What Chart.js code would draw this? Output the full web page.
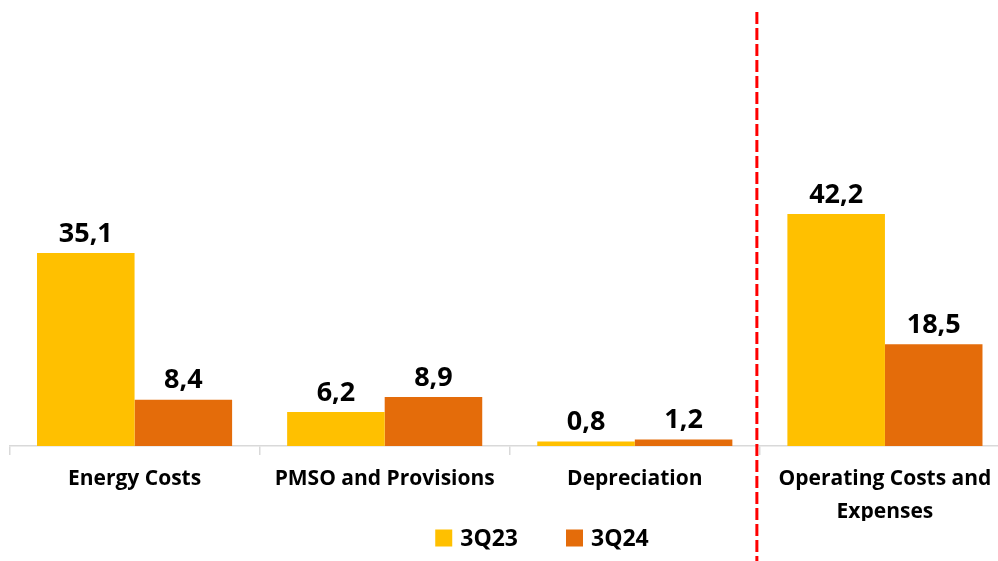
<!DOCTYPE html>
<html>
<head>
<meta charset="utf-8">
<script src="https://cdn.jsdelivr.net/npm/chart.js@4/dist/chart.umd.min.js"></script>
<style>
  html, body { margin: 0; padding: 0; background: #fff; }
  #wrap { width: 998px; height: 561px; overflow: hidden; }
</style>
</head>
<body>
<div id="wrap"><canvas id="costChart" width="1010" height="561"></canvas></div>
<script>
const categories = ['Energy Costs', 'PMSO and Provisions', 'Depreciation', ['Operating Costs and', 'Expenses']];
const q23 = [35.1, 6.2, 0.8, 42.2];
const q24 = [8.4, 8.9, 1.2, 18.5];
const seriesNames = ['3Q23', '3Q24'];
const seriesColors = ['#FFC000', '#E46C0A'];

const ctx = document.getElementById('costChart').getContext('2d');
const FONT = '"Open Sans", sans-serif';

// value labels above bars, comma decimals
const valueLabels = {
  id: 'valueLabels',
  afterDatasetsDraw(chart) {
    const c = chart.ctx;
    c.save();
    c.font = 'bold 27px ' + FONT;
    c.fillStyle = '#000';
    c.textAlign = 'center';
    c.textBaseline = 'middle';
    chart.data.datasets.forEach((ds, i) => {
      chart.getDatasetMeta(i).data.forEach((bar, j) => {
        c.fillText(ds.data[j].toFixed(1).replace('.', ','), bar.x, bar.y - 19);
      });
    });
    c.restore();
  }
};

// red dashed separator before the total group
const separator = {
  id: 'separator',
  afterDraw(chart) {
    const x = chart.scales.x;
    const px = (x.getPixelForValue(2) + x.getPixelForValue(3)) / 2 - 3;
    const c = chart.ctx;
    c.save();
    c.strokeStyle = '#FF0000';
    c.lineWidth = 3;
    c.setLineDash([12, 4]);
    c.beginPath();
    c.moveTo(px, 12);
    c.lineTo(px, chart.height);
    c.stroke();
    c.restore();
  }
};

// legend drawn by hand so the spacing matches
const bottomLegend = {
  id: 'bottomLegend',
  afterDraw(chart) {
    const c = chart.ctx;
    c.save();
    c.font = 'bold 23px ' + FONT;
    c.textBaseline = 'middle';
    const box = 17, gap = 8, between = 48;
    const widths = seriesNames.map(n => c.measureText(n).width);
    const total = widths.reduce((a, w) => a + box + gap + w, 0) + between * (seriesNames.length - 1);
    let x = 542 - total / 2;
    const y = 538;
    seriesNames.forEach((n, i) => {
      c.fillStyle = seriesColors[i];
      c.fillRect(x, y - box / 2, box, box);
      c.fillStyle = '#000';
      c.fillText(n, x + box + gap, y + 1);
      x += box + gap + widths[i] + between;
    });
    c.restore();
  }
};

const costChart = new Chart(ctx, {
  type: 'bar',
  data: {
    labels: categories,
    datasets: [
      { label: seriesNames[0], data: q23, backgroundColor: seriesColors[0] },
      { label: seriesNames[1], data: q24, backgroundColor: seriesColors[1] }
    ]
  },
  options: {
    responsive: false,
    animation: false,
    categoryPercentage: 0.78,
    barPercentage: 1,
    layout: { padding: { left: 9.5, right: 0, top: 6, bottom: 40 } },
    scales: {
      x: {
        grid: {
          drawOnChartArea: false,
          tickLength: 9,
          color: '#D9D9D9',
          lineWidth: 1.5
        },
        border: { color: '#D9D9D9', width: 1.5 },
        ticks: {
          color: '#000',
          font: { family: FONT, size: 21, weight: 'bold', lineHeight: 1.55 },
          padding: 8,
          maxRotation: 0
        },
        afterFit(axis) { axis.height = 75; }
      },
      y: {
        display: false,
        min: 0,
        max: 80
      }
    },
    plugins: {
      legend: { display: false },
      tooltip: { enabled: false }
    }
  },
  plugins: [valueLabels, separator, bottomLegend]
});
</script>
</body>
</html>
